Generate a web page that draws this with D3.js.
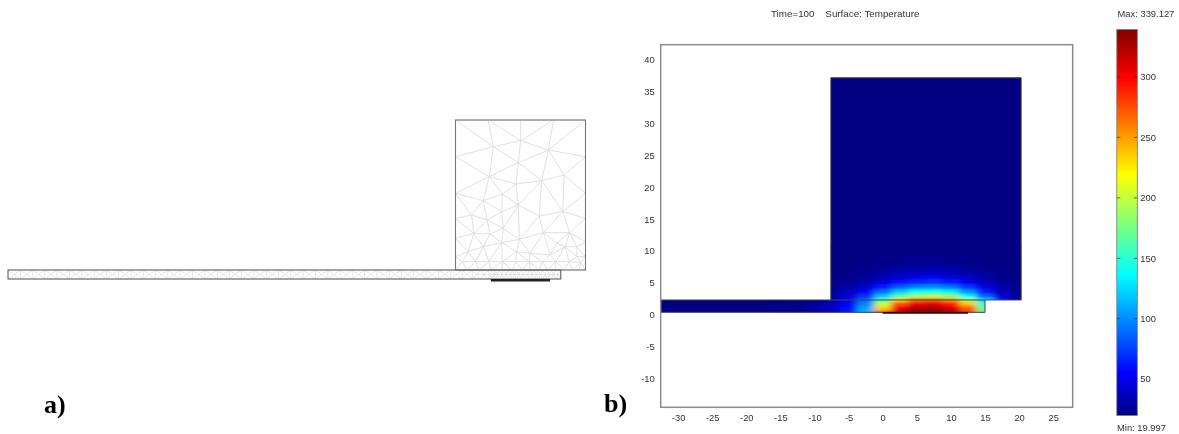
<!DOCTYPE html>
<html>
<head>
<meta charset="utf-8">
<script src="https://d3js.org/d3.v7.min.js"></script>
<style>
  html, body { margin: 0; background: #fff; }
  svg { display: block; filter: blur(0.6px); }
  text { font-family: "Liberation Sans", Arial, sans-serif; font-size: 9.4px; fill: #333; }
  .tag { font-family: "Liberation Serif", serif; font-size: 26px; font-weight: bold; fill: #000; }
</style>
</head>
<body>
<div id="chart"></div>
<script>
// panel b, temperature
const xTicks = [-30, -25, -20, -15, -10, -5, 0, 5, 10, 15, 20, 25];
const yTicks = [-10, -5, 0, 5, 10, 15, 20, 25, 30, 35, 40];
const barTicks = [50, 100, 150, 200, 250, 300];
const tempMin = 19.997;
const tempMax = 339.127;

const fieldX = [-15, -12.5, -10, -7.5, -5, -2.5, 0, 2.5, 5, 7.5, 10, 12.5, 15, 17.5, 20];
const fieldY = [0.3, 1, 1.7, 2.3, 3, 3.7, 4.4, 5.2, 6, 7, 8.5, 10];
const fieldT = [
  [22, 24, 28, 38, 60, 115, 275, 330, 338, 339, 332, 295, 175, 60, 30],
  [22, 24, 28, 38, 58, 108, 235, 305, 328, 330, 315, 270, 165, 60, 30],
  [22, 24, 27, 36, 55, 98, 200, 275, 303, 308, 290, 240, 155, 60, 30],
  [20, 22, 24, 34, 52, 88, 165, 235, 268, 272, 255, 195, 125, 58, 30],
  [20, 20, 22, 31, 45, 70, 118, 165, 190, 195, 180, 135, 85, 44, 27],
  [20, 20, 21, 27, 36, 54, 88, 120, 138, 142, 130, 100, 62, 36, 25],
  [20, 20, 20, 24, 30, 42, 62, 84, 96, 100, 92, 72, 48, 31, 23],
  [20, 20, 20, 22, 26, 33, 45, 58, 66, 70, 63, 50, 36, 26, 22],
  [20, 20, 20, 21, 23, 27, 34, 41, 46, 48, 44, 37, 29, 23, 21],
  [20, 20, 20, 20, 22, 24, 27, 31, 33, 34, 32, 28, 25, 22, 20],
  [20, 20, 20, 20, 20, 21, 23, 24, 25, 25, 24, 23, 21, 20, 20],
  [20, 20, 20, 20, 20, 20, 20, 20, 20, 20, 20, 20, 20, 20, 20]
];

// panel a, mesh nodes (block width 389, height 450)
const blockNodes = [
  [0, 450], [98, 450], [195, 450], [293, 450], [389, 450],
  [0, 340], [0, 230], [0, 155], [0, 95], [0, 40],
  [389, 340], [389, 230], [389, 155], [389, 85], [389, 40],
  [113, 370], [195, 388], [278, 360], [188, 322], [101, 280], [181, 258], [258, 268], [325, 285],
  [83, 208], [140, 228], [188, 195], [138, 175], [250, 162], [321, 175], [48, 165], [95, 150],
  [143, 125], [55, 110], [103, 108], [191, 92], [263, 112], [341, 112], [138, 82], [38, 55],
  [83, 70], [183, 55], [223, 50], [283, 45], [303, 80], [328, 70], [363, 70], [363, 40],
  [20, 25], [60, 25], [100, 25], [140, 25], [180, 25], [220, 25], [260, 25], [300, 25], [340, 25], [375, 22],
  [0, 0], [35, 0], [70, 0], [105, 0], [140, 0], [170, 0], [200, 0], [225, 0], [250, 0], [275, 0],
  [300, 0], [325, 0], [350, 0], [370, 0], [389, 0]
];
const stripCuts = [
  -1339, -1302, -1265, -1229, -1192, -1155, -1118, -1081, -1045, -1008, -971, -934, -897, -861,
  -824, -787, -750, -713, -677, -640, -603, -566, -529, -493, -456, -419, -382, -345, -309, -272,
  -235, -198, -161, -125, -88, -51, -14, 20, 50, 75, 95, 110, 120, 132, 145, 158, 170, 183, 196,
  209, 222, 235, 248, 261, 274, 287, 300, 315
];
const stripDepth = 27;
const sourceA = [106, 283];

// geometry of the model in plot units
const block = { x0: -7.6, x1: 20.3, y0: 2.27, y1: 37.2 };
const strip = { x1: 15, y0: 0.33, y1: 2.27 };
const source = [0, 12.5];

const width = 1179;
const height = 434;

const svg = d3.select('#chart').append('svg')
  .attr('width', width)
  .attr('height', height);

const defs = svg.append('defs');

// ---- panel a ----
const xMesh = d3.scaleLinear().domain([0, 389]).range([455.5, 585.5]);
const yMesh = d3.scaleLinear().domain([0, 450]).range([270, 120]);

const a = svg.append('g');

const blockPts = blockNodes.map(d => [xMesh(d[0]), yMesh(d[1])]);
a.append('path')
  .attr('d', d3.Delaunay.from(blockPts).render())
  .attr('fill', 'none')
  .attr('stroke', '#dcdcdc')
  .attr('stroke-width', 0.9);

const stripPts = [];
stripCuts.forEach((c, i) => {
  stripPts.push([xMesh(c), yMesh(0)], [xMesh(c), yMesh(-stripDepth)]);
  if (i > 0) stripPts.push([xMesh((c + stripCuts[i - 1]) / 2), yMesh(-stripDepth / 2)]);
});
a.append('path')
  .attr('d', d3.Delaunay.from(stripPts).render())
  .attr('fill', 'none')
  .attr('stroke', '#dedede')
  .attr('stroke-width', 0.8);

a.append('rect')
  .attr('x', xMesh(0)).attr('y', yMesh(450))
  .attr('width', xMesh(389) - xMesh(0)).attr('height', yMesh(0) - yMesh(450))
  .attr('fill', 'none').attr('stroke', '#777').attr('stroke-width', 1.1);
a.append('rect')
  .attr('x', xMesh(stripCuts[0])).attr('y', yMesh(0))
  .attr('width', xMesh(stripCuts[stripCuts.length - 1]) - xMesh(stripCuts[0]))
  .attr('height', yMesh(-stripDepth) - yMesh(0))
  .attr('fill', 'none').attr('stroke', '#666').attr('stroke-width', 1.1);
a.append('line')
  .attr('x1', xMesh(sourceA[0])).attr('x2', xMesh(sourceA[1]))
  .attr('y1', yMesh(-stripDepth) + 1.2).attr('y2', yMesh(-stripDepth) + 1.2)
  .attr('stroke', '#222').attr('stroke-width', 2.4);

svg.append('text').attr('class', 'tag').attr('x', 44).attr('y', 413).text('a)');
svg.append('text').attr('class', 'tag').attr('x', 604).attr('y', 412).text('b)');

// ---- panel b ----
const x = d3.scaleLinear().domain([-32.55, 27.86]).range([660.7, 1072.7]);
const y = d3.scaleLinear().domain([-14.6, 42.4]).range([407.3, 44.7]);

const jet = d3.scaleLinear()
  .domain([0, 0.11, 0.365, 0.625, 0.875, 1].map(t => tempMin + t * (tempMax - tempMin)))
  .range(['#000080', '#0000ff', '#00ffff', '#ffff00', '#ff0000', '#800000']);

const b = svg.append('g');

const clip = defs.append('clipPath').attr('id', 'model');
clip.append('rect')
  .attr('x', x(block.x0)).attr('y', y(block.y1))
  .attr('width', x(block.x1) - x(block.x0)).attr('height', y(block.y0) - y(block.y1));
clip.append('rect')
  .attr('x', x.range()[0]).attr('y', y(strip.y1))
  .attr('width', x(strip.x1) - x.range()[0]).attr('height', y(strip.y0) - y(strip.y1));

defs.append('filter').attr('id', 'smooth')
  .attr('filterUnits', 'userSpaceOnUse')
  .attr('x', 600).attr('y', 0).attr('width', 560).attr('height', 434)
  .append('feGaussianBlur').attr('stdDeviation', '3.5 1.2');

const model = b.append('g').attr('clip-path', 'url(#model)');
model.append('rect')
  .attr('x', x.range()[0]).attr('y', y.range()[1])
  .attr('width', x.range()[1] - x.range()[0]).attr('height', y.range()[0] - y.range()[1])
  .attr('fill', jet(tempMin));

// cells run past the strip ends so the blur does not fade at the border
const rowEdge = i => i === 0 ? fieldY[0] - 3
  : i === fieldY.length ? fieldY[i - 1] + 1
  : (fieldY[i] + fieldY[i - 1]) / 2;
const cells = [];
fieldT.forEach((row, r) => row.forEach((t, c) => {
  cells.push({ x: fieldX[c], r, t });
}));
model.append('g').attr('filter', 'url(#smooth)')
  .selectAll('rect').data(cells).join('rect')
  .attr('x', d => x(d.x - 1.25))
  .attr('width', x(2.6) - x(0))
  .attr('y', d => y(rowEdge(d.r + 1)))
  .attr('height', d => y(rowEdge(d.r)) - y(rowEdge(d.r + 1)) + 0.5)
  .attr('fill', d => jet(d.t));

// outlines of the domains
b.append('path')
  .attr('d', `M${x(block.x0)},${y(block.y0)}V${y(block.y1)}H${x(block.x1)}V${y(block.y0)}H${x(strip.x1)}`)
  .attr('fill', 'none').attr('stroke', '#444').attr('stroke-width', 1);
b.append('path')
  .attr('d', `M${x.range()[0]},${y(strip.y1)}H${x(strip.x1)}V${y(strip.y0)}H${x.range()[0]}`)
  .attr('fill', 'none').attr('stroke', '#444').attr('stroke-width', 1);
b.append('line')
  .attr('x1', x(source[0])).attr('x2', x(source[1]))
  .attr('y1', y(strip.y0) + 0.6).attr('y2', y(strip.y0) + 0.6)
  .attr('stroke', '#300').attr('stroke-width', 1.6);

b.append('rect')
  .attr('x', x.range()[0]).attr('y', y.range()[1])
  .attr('width', x.range()[1] - x.range()[0]).attr('height', y.range()[0] - y.range()[1])
  .attr('fill', 'none').attr('stroke', '#8c8c8c').attr('stroke-width', 1.5);

const xAxis = d3.axisBottom(x).tickValues(xTicks).tickSize(0).tickPadding(7).tickFormat(String);
const yAxis = d3.axisLeft(y).tickValues(yTicks).tickSize(0).tickPadding(6).tickFormat(String);
b.append('g').attr('transform', `translate(0,${y.range()[0]})`).call(xAxis)
  .call(g => g.select('.domain').remove());
b.append('g').attr('transform', `translate(${x.range()[0]},0)`).call(yAxis)
  .call(g => g.select('.domain').remove());
b.selectAll('.tick text').style('font-size', '9.4px').style('font-family', '"Liberation Sans", Arial, sans-serif');

svg.append('text').attr('x', 771).attr('y', 16.5)
  .style('font-size', '9.8px').style('white-space', 'pre')
  .text('Time=100    Surface: Temperature');

// ---- colour bar ----
const yBar = d3.scaleLinear().domain([tempMin, tempMax]).range([415.5, 29.6]);
const barX0 = 1116.8;
const barX1 = 1137.3;

const grad = defs.append('linearGradient').attr('id', 'jetbar')
  .attr('x1', 0).attr('x2', 0).attr('y1', 1).attr('y2', 0);
jet.domain().forEach((v, i) => {
  grad.append('stop')
    .attr('offset', (v - tempMin) / (tempMax - tempMin))
    .attr('stop-color', jet.range()[i]);
});

b.append('rect')
  .attr('x', barX0).attr('y', yBar(tempMax))
  .attr('width', barX1 - barX0).attr('height', yBar(tempMin) - yBar(tempMax))
  .attr('fill', 'url(#jetbar)').attr('stroke', '#777').attr('stroke-width', 0.8);

const barTick = b.append('g').selectAll('g').data(barTicks).join('g')
  .attr('transform', d => `translate(0,${yBar(d)})`);
barTick.append('path')
  .attr('d', `M${barX0},0h3.5M${barX1},0h-3.5`)
  .attr('stroke', '#222').attr('stroke-width', 0.8).attr('opacity', 0.75);
barTick.append('text')
  .attr('x', barX1 + 3).attr('dy', '0.34em')
  .text(d => d);

svg.append('text').attr('x', 1117.5).attr('y', 17).text('Max: ' + tempMax);
svg.append('text').attr('x', 1117).attr('y', 431).text('Min: ' + tempMin);
</script>
</body>
</html>
